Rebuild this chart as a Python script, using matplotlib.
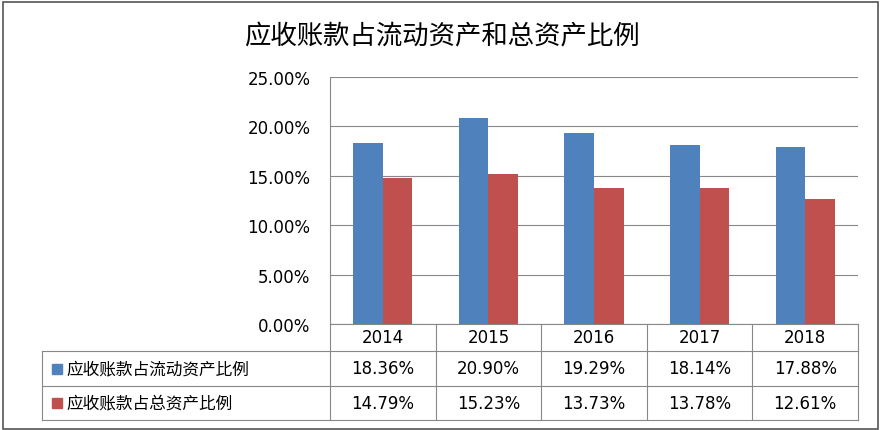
import matplotlib
matplotlib.use("Agg")
import matplotlib.pyplot as plt
from matplotlib.patches import Rectangle
import numpy as np

years = ["2014", "2015", "2016", "2017", "2018"]
series_names = ["应收账款占流动资产比例", "应收账款占总资产比例"]
current_ratio = [18.36, 20.90, 19.29, 18.14, 17.88]
total_ratio = [14.79, 15.23, 13.73, 13.78, 12.61]
colors = ["#4F81BD", "#C0504D"]

CJK = ["Noto Sans CJK SC", "Noto Sans CJK JP", "Noto Sans CJK TC", "Noto Sans CJK KR", "DejaVu Sans"]
plt.rcParams["font.family"] = CJK
fig = plt.figure(figsize=(8.84, 4.31), dpi=100)
fig.patches.append(Rectangle((0.003, 0.003), 0.99, 0.99, transform=fig.transFigure,
                             fill=False, edgecolor="#555555", lw=1.2))
ax = fig.add_axes([330/884, 1-325/431, 528/884, 247/431])
x = np.arange(len(years))
w = 0.28
ax.bar(x - w/2, current_ratio, w, color=colors[0], zorder=3)
ax.bar(x + w/2, total_ratio, w, color=colors[1], zorder=3)
ax.set_xlim(-0.5, len(years) - 0.5)
ax.set_ylim(0, 25)
ax.set_yticks(np.arange(0, 26, 5))
ax.set_yticklabels([f"{v:.2f}%" for v in np.arange(0, 26, 5)], fontsize=12, family="DejaVu Sans")
ax.yaxis.grid(True, color="#888888", lw=0.8, zorder=0)
ax.set_xticks([])
ax.tick_params(axis="y", length=0, pad=14)
for s in ["top", "right"]:
    ax.spines[s].set_visible(False)
ax.spines["left"].set_color("#888888")
ax.spines["bottom"].set_color("#888888")
fig.text(0.5, 0.915, "应收账款占流动资产和总资产比例", ha="center", va="center",
         fontsize=19, fontfamily=CJK)

tr = ax.transAxes
h0, h1, h2 = -27/247, -62/247, -96/247
left = -288/528
kw = dict(transform=tr, clip_on=False, color="#888888", lw=0.8)
for yy in [h1, h2]:
    ax.plot([left, 1], [yy, yy], **kw)
ax.plot([left, 1], [h0, h0], **kw)
ax.plot([left, left], [h0, h2], **kw)
for i in range(len(years) + 1):
    xf = i / len(years)
    ax.plot([xf, xf], [0, h2], **kw)
for i, yv in enumerate(years):
    xc = (i + 0.5) / len(years)
    ax.text(xc, h0/2, yv, transform=tr, ha="center", va="center", fontsize=12, family="DejaVu Sans")
    ax.text(xc, (h0+h1)/2, f"{current_ratio[i]:.2f}%", transform=tr, ha="center", va="center", fontsize=12, family="DejaVu Sans")
    ax.text(xc, (h1+h2)/2, f"{total_ratio[i]:.2f}%", transform=tr, ha="center", va="center", fontsize=12, family="DejaVu Sans")
for j, (name, yc) in enumerate(zip(series_names, [(h0+h1)/2, (h1+h2)/2])):
    ax.add_patch(Rectangle((left + 10/528, yc - 5/247), 10/528, 10/247, transform=tr,
                           clip_on=False, color=colors[j]))
    ax.text(left + 24/528, yc, name, transform=tr, ha="left", va="center", fontsize=12, fontfamily=CJK)

fig.savefig("out.png", dpi=100)
